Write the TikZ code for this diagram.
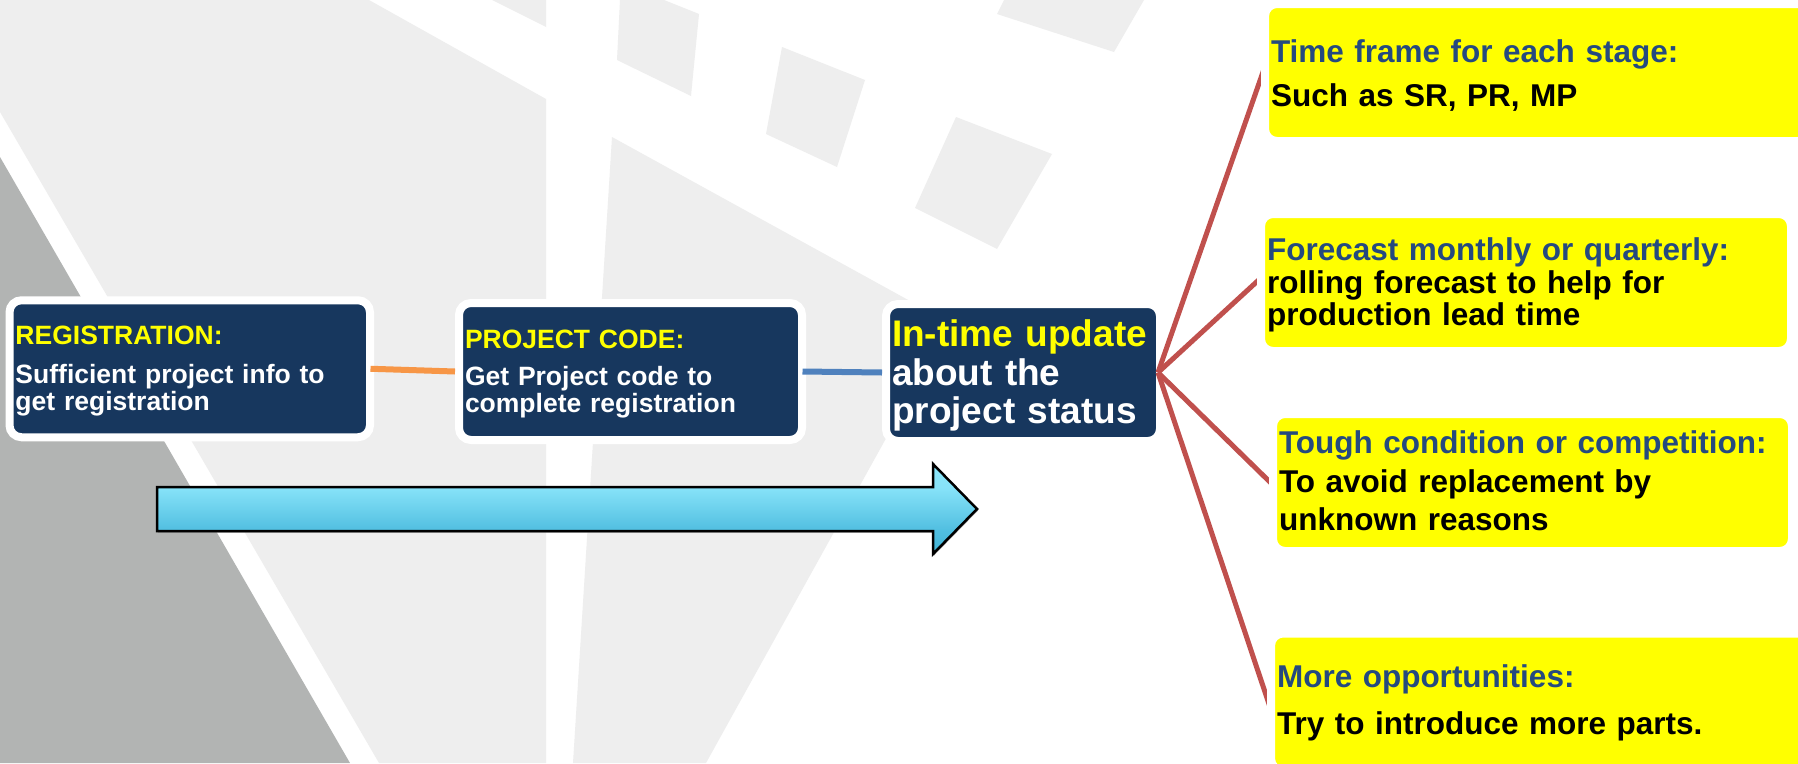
\documentclass[tikz,border=0pt]{standalone}
\usepackage{fontspec}
\setmainfont{Liberation Sans}
\usepackage{xcolor}
\usepackage{tikz}
\usetikzlibrary{arrows.meta,shadows}

\definecolor{stagenavy}{HTML}{17375E}
\definecolor{notenavy}{HTML}{254A7F}
\definecolor{noteyellow}{HTML}{FFFF00}
\definecolor{lightground}{HTML}{EEEEEE}
\definecolor{darkground}{HTML}{B2B4B3}
\definecolor{linkorange}{HTML}{F79646}
\definecolor{linkblue}{HTML}{4F81BD}
\definecolor{linkred}{HTML}{C0504D}
\definecolor{fadeA}{HTML}{8AE6FA}
\definecolor{fadeB}{HTML}{87E3F9}
\definecolor{fadeC}{HTML}{50BEE0}
\definecolor{fadeD}{HTML}{40B3D5}

\pgfdeclareverticalshading{arrowfade}{100bp}{color(0bp)=(fadeD); color(25bp)=(fadeD); color(37.8bp)=(fadeC);
  color(62bp)=(fadeB); color(75bp)=(fadeA); color(100bp)=(fadeA)}

\pgfdeclarelayer{notes}
\pgfsetlayers{main,notes}

\tikzset{
  stagebox/.style={rectangle,rounded corners=12pt,fill=stagenavy,draw=white,line width=8pt,
    inner xsep=6pt,inner ysep=0pt,minimum height=137pt,text width=#1,align=left,text=white,
    font=\fontsize{26.5}{27.4}\selectfont\bfseries},
  notebox/.style={rectangle,rounded corners=12pt,fill=noteyellow,draw=white,line width=8pt,
    inner xsep=6pt,inner ysep=0pt,minimum height=137pt,text width=#1,align=left,text=black,
    font=\fontsize{31.5}{32.6}\selectfont\bfseries},
  link/.style={line width=6pt},
  spoke/.style={line width=5pt,linkred}
}

\begin{document}
\begin{tikzpicture}[x=1pt,y=-1pt]
  \useasboundingbox (0,0) rectangle (1798,763);
  \clip (0,0) rectangle (1798,763);

  \fill[white] (0,0) rectangle (1798,763);
  \fill[lightground] (0,0) -- (369,0) -- (546,99) -- (546,763) -- (379,763) -- (0,112) -- cycle;
  \fill[darkground] (0,157) -- (350,763) -- (0,763) -- cycle;
  \fill[lightground] (492,0) -- (546,27) -- (546,0) -- cycle;
  \fill[lightground] (620,0) -- (664,0) -- (699,14) -- (691,96) -- (617,60) -- cycle;
  \fill[lightground] (782,47) -- (865,80) -- (837,167) -- (766,134) -- cycle;
  \fill[lightground] (956,117) -- (1052,154) -- (997,249) -- (915,208) -- cycle;
  \fill[lightground] (1004,0) -- (1144,0) -- (1114,52) -- (997,14) -- cycle;
  \fill[lightground] (612,137) -- (950,323) -- (706,763) -- (573,763) -- cycle;

  \node[stagebox=348.5pt] (reg) at (189.75,368.75) {\rule{0pt}{23pt}\textcolor{noteyellow}{REGISTRATION:}\\[12pt]
    Sufficient project info to\\get registration};
  \node[stagebox=331pt] (code) at (630.5,371.5) {\rule{0pt}{24pt}\textcolor{noteyellow}{PROJECT CODE:}\\[9.6pt]
    Get Project code to\\complete registration};
  \node[stagebox=262pt,font=\fontsize{37}{38.8}\selectfont\bfseries] (status) at (1023,372.5)
    {\rule{0pt}{33pt}\textcolor{noteyellow}{In-time update}\\about the\\project status};

  \begin{pgfonlayer}{notes}
    \node[notebox=533pt] (time) at (1537.5,72.5) {\rule{0pt}{29pt}\textcolor{notenavy}{Time frame for each stage:}\\[12.1pt]
      Such as SR, PR, MP};
    \node[notebox=518pt] (forecast) at (1526,282.5) {\rule{0pt}{27.6pt}\textcolor{notenavy}{Forecast monthly or quarterly:}\\
      rolling forecast to help for\\production lead time};
    \node[notebox=507pt] (tough) at (1532.5,482.5) {\textcolor{notenavy}{Tough condition or competition:}\\[6.4pt]
      To avoid replacement by\\[5.4pt]unknown reasons\rule[-3.5pt]{0pt}{1pt}};
    \node[notebox=527pt] (more) at (1540.5,702) {\rule{0pt}{25pt}\textcolor{notenavy}{More opportunities:}\\[14.8pt]
      Try to introduce more parts.};
  \end{pgfonlayer}

  \draw[link,linkorange] ([xshift=-3.5pt]reg.east) -- (code.west);
  \draw[link,linkblue] ([xshift=-3.5pt]code.east) -- (status.west);
  \draw[spoke] ([xshift=-6pt]status.east) -- ([shift={(6,-12)}]time.west);
  \draw[spoke] ([xshift=-6pt]status.east) -- ([shift={(6,-6.5)}]forecast.west);
  \draw[spoke] ([xshift=-6pt]status.east) -- ([shift={(6,4.5)}]tough.west);
  \draw[spoke] ([xshift=-6pt]status.east) -- ([shift={(6,14)}]more.west);

  \path[shade,shading=arrowfade,draw=black,line width=2.5pt,
    drop shadow={shadow xshift=1pt,shadow yshift=-1.5pt,fill=gray,opacity=0.8}]
    (157,487) -- (933,487) -- (933,464) -- (977,509) -- (933,554) -- (933,531) -- (157,531) -- cycle;
\end{tikzpicture}
\end{document}
